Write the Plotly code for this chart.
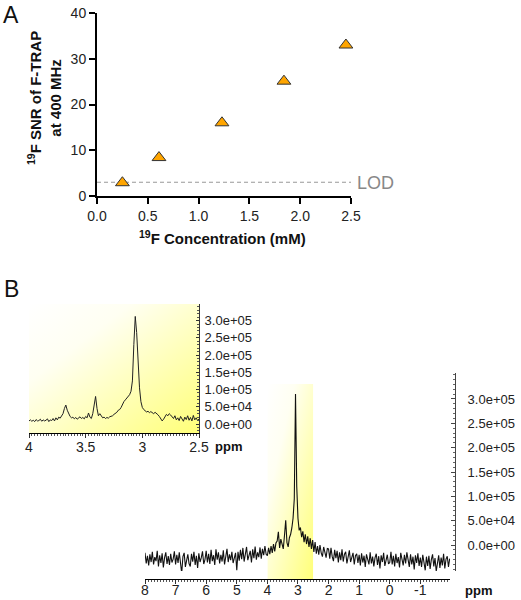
import base64
import numpy as np
import plotly.graph_objects as go

W, H = 521, 600

# ---------------- Panel A data ----------------
conc_mM = [0.25, 0.61, 1.23, 1.84, 2.45]
snr = [2.9, 8.4, 16.0, 25.1, 33.0]
lod_value = 3.0
a_xticks = [0.0, 0.5, 1.0, 1.5, 2.0, 2.5]
a_xticklabels = ["0.0", "0.5", "1.0", "1.5", "2.0", "2.5"]
a_yticks = [0, 10, 20, 30, 40]

# ---------------- Panel B data ----------------
# inset spectrum, 4.0 -> 2.5 ppm (intensity in thousands)
inset_k = [9, 12, 8, 11, 7, 13, 9, 10, 14, 8, 12, 9, 11, 15, 7, 12, 10, 16, 9, 18, 12, 20,
           17, 24, 30, 45,
           55,
           40, 28, 22,
           18, 20, 15, 19, 14, 17, 21, 16, 19, 15, 22, 18,
           32, 20, 16, 30, 55, 80, 45, 24, 30, 22,
           18, 20, 16, 19, 17, 21, 22, 24, 28, 30,
           34, 40, 42, 48, 58, 65, 70, 75, 78, 85, 95,
           125, 230, 312, 265, 180, 105, 65, 48,
           42, 38, 35, 37, 33, 36, 32, 30, 34, 31, 27,
           22, 15, 9, 14,
           22, 28, 24, 30, 26,
           20, 16, 24, 12, 18, 10, 22, 14, 8, 20, 13, 24, 11, 19, 9, 25, 12, 18, 10, 15]
inset_ppm_start, inset_ppm_end = 4.0, 2.5

# full spectrum, 8.0 ppm downward in 0.04 ppm steps (intensity in thousands)
full_k = ([-16, -38, -22, -42, -19, -35, -14, -40, -25, -33, -12, -44, -21, -37, -17, -46, -26, -15, -39, -23, -41, -18, -36, -29, -13]
          + [-40, -20, -37, -15, -43, -58, -24, -16, -45, -27, -19, -38, -44, -18, -34, -14, -41, -22, -47, -17, -35, -26, -13, -39, -30]
          + [-12, -36, -18, -39, -10, -33, -21, -41, -9, -30, -15, -38, -20, -34, -11, -40, -24, -8, -35, -19, -31, -14, -37, -22, -16]
          + [-52, -14, -32, -10, -29, -6, -34, -17, -4, -31, -22, -12, -36, -9, -27, -3, -30, -15, -25, -5, -28, -8, -21, -2, -19]
          + [-22, -6, -19, -2, -16, 2, -13, 4, 8, 27, -6, 12, 0, -8, 20, 51, 5, -4, 15, 22, 35, 55, 95, 310,
             120, 55, 30, 36, 16, 28, 6, 22, 2, 18, -4, 14, -8, 10]
          + [-14, 6, -18, -2, -20, 0, -16, -24, -4, -19, -26, -7]
          + [-8, -28, -6, -24, -33, -10, -27, -12, -36, -15, -31, -9, -34, -19, -14, -38, -20, -11, -35, -25, -16, -40, -22, -18, -37]
          + [-20, -42, -17, -36, -22, -45, -19, -33, -40, -15, -38, -24, -44, -26, -18, -41, -23, -48, -21, -35, -16, -43, -27, -20, -39]
          + [-36, -14, -40, -22, -44, -18, -37, -25, -46, -16, -33, -42, -20, -38, -15, -34, -45, -19, -40, -24, -50, -21, -37, -17, -43]
          + [-26, -45, -20, -41, -52, -24, -43, -22, -49, -30, -19, -44, -27, -54, -31, -21, -47, -26, -42, -18, -48, -29, -23, -45, -28])
full_ppm_start, full_ppm_step = 8.0, 0.04

b_yticks = [0, 50000, 100000, 150000, 200000, 250000, 300000]
b_yticklabels = ["0.0e+00", "5.0e+04", "1.0e+05", "1.5e+05", "2.0e+05", "2.5e+05", "3.0e+05"]
inset_xticks = [4, 3.5, 3, 2.5]
inset_xticklabels = ["4", "3.5", "3", "2.5"]
full_xticks = [8, 7, 6, 5, 4, 3, 2, 1, 0, -1]
full_xticklabels = ["8", "7", "6", "5", "4", "3", "2", "1", "0", "-1"]
band_ppm = [4.0, 2.5]

inset_ppm = np.linspace(inset_ppm_start, inset_ppm_end, len(inset_k))
inset_int = np.array(inset_k) * 1000.0
full_ppm = full_ppm_start - full_ppm_step * np.arange(len(full_k))
full_int = np.array(full_k) * 1000.0

FONT = "Arial, Liberation Sans, sans-serif"


def px(x):
    return x / W


def py(y):
    return 1 - y / H


svg = ('<svg xmlns="http://www.w3.org/2000/svg" width="100" height="100" viewBox="0 0 100 100" '
       'preserveAspectRatio="none"><defs><linearGradient id="g" x1="0" y1="0" x2="1" y2="1">'
       '<stop offset="0" stop-color="#ffffff"/><stop offset="0.3" stop-color="#fffff2"/>'
       '<stop offset="1" stop-color="#ffff78"/></linearGradient></defs>'
       '<rect width="100" height="100" fill="url(#g)"/></svg>')
grad = "data:image/svg+xml;base64," + base64.b64encode(svg.encode()).decode()

fig = go.Figure()

# Panel A
fig.add_trace(go.Scatter(x=[0, 2.5], y=[lod_value, lod_value], mode="lines",
                         line=dict(color="#999999", width=1.2, dash="4px,3px"),
                         xaxis="x", yaxis="y", hoverinfo="skip"))
fig.add_trace(go.Scatter(x=conc_mM, y=snr, mode="markers",
                         marker=dict(symbol="triangle-up", size=12, color="#FFA500",
                                     line=dict(color="#333333", width=1)),
                         xaxis="x", yaxis="y", cliponaxis=False))

# Panel B inset
fig.add_trace(go.Scatter(x=inset_ppm, y=inset_int, mode="lines",
                         line=dict(color="#222222", width=1), xaxis="x2", yaxis="y2"))
# Panel B full spectrum
fig.add_trace(go.Scatter(x=full_ppm, y=full_int, mode="lines",
                         line=dict(color="#111111", width=1.1), xaxis="x3", yaxis="y3"))

axis_common = dict(showgrid=False, zeroline=False, showline=True, linecolor="black",
                   automargin=False)

fig.update_layout(
    template="none",
    width=W, height=H, autosize=False,
    margin=dict(l=0, r=0, t=0, b=0, pad=0),
    paper_bgcolor="white", plot_bgcolor="rgba(0,0,0,0)",
    showlegend=False,
    font=dict(family=FONT, color="#222222"),
    xaxis=dict(axis_common, domain=[px(97), px(351)], range=[0, 2.5], anchor="y",
               linewidth=2, ticks="outside", ticklen=6, tickwidth=2, tickcolor="black",
               tickvals=a_xticks, ticktext=a_xticklabels, tickfont=dict(size=14)),
    yaxis=dict(axis_common, domain=[py(196), py(13)], range=[0, 40], anchor="x",
               linewidth=2, ticks="outside", ticklen=6, tickwidth=2, tickcolor="black",
               tickvals=a_yticks, tickfont=dict(size=14)),
    xaxis2=dict(axis_common, domain=[px(29), px(199)], range=[4, 2.5], anchor="y2",
                linewidth=1, ticks="outside", ticklen=4, tickcolor="#333",
                tickvals=inset_xticks, ticktext=inset_xticklabels, tickfont=dict(size=14),
                ticklabelstandoff=-3,
                minor=dict(ticks="outside", ticklen=2, dtick=0.025, tickcolor="#555")),
    yaxis2=dict(axis_common, domain=[py(433), py(304)], range=[-26000, 348000], anchor="x2",
                side="right", linewidth=1, linecolor="#333", ticks="inside", ticklen=3,
                tickcolor="#333", tickvals=b_yticks, ticktext=b_yticklabels,
                tickfont=dict(size=13), ticklabelstandoff=2,
                minor=dict(ticks="inside", ticklen=2, dtick=10000, tickcolor="#555")),
    xaxis3=dict(axis_common, domain=[px(145), px(450)], range=[8, -1.97], anchor="free",
                position=py(579), linewidth=1, ticks="outside", ticklen=4, tickcolor="#333",
                tickvals=full_xticks, ticktext=full_xticklabels, tickfont=dict(size=14),
                ticklabelstandoff=-6,
                minor=dict(ticks="outside", ticklen=2, dtick=0.1, tickcolor="#555")),
    yaxis3=dict(axis_common, domain=[py(571), py(373)], range=[-53400, 353400], anchor="free",
                position=px(455), side="right", linewidth=1, linecolor="#444", ticks="inside",
                ticklen=4, tickcolor="#444", tickvals=b_yticks, ticktext=b_yticklabels,
                tickfont=dict(size=13), ticklabelstandoff=9,
                minor=dict(ticks="inside", ticklen=2, dtick=10000, tickcolor="#666")),
    images=[
        dict(source=grad, xref="paper", yref="paper", x=px(29), y=py(304),
             sizex=170 / W, sizey=129 / H, sizing="stretch", layer="below",
             xanchor="left", yanchor="top"),
        dict(source=grad, xref="x3", yref="paper", x=band_ppm[0], y=py(384),
             sizex=band_ppm[0] - band_ppm[1], sizey=(579 - 384) / H, sizing="stretch",
             layer="below", xanchor="left", yanchor="top"),
    ],
    annotations=[
        dict(text="A", x=px(11), y=py(15), xref="paper", yref="paper", xanchor="center",
             yanchor="middle", showarrow=False, font=dict(size=23, color="#111")),
        dict(text="B", x=px(11), y=py(289), xref="paper", yref="paper", xanchor="center",
             yanchor="middle", showarrow=False, font=dict(size=23, color="#111")),
        dict(text="LOD", x=px(355), y=py(183), xref="paper", yref="paper", xanchor="left",
             yanchor="middle", showarrow=False, font=dict(size=18, color="#888888")),
        dict(text="<b><sup>19</sup>F Concentration (mM)</b>", x=px(222), y=py(237),
             xref="paper", yref="paper", xanchor="center", yanchor="middle",
             showarrow=False, font=dict(size=15, color="#111")),
        dict(text="<b><sup>19</sup>F SNR of F-TRAP<br>at 400 MHz</b>", x=px(44), y=py(98),
             xref="paper", yref="paper", xanchor="center", yanchor="middle",
             textangle=-90, showarrow=False, font=dict(size=15, color="#111")),
        dict(text="<b>ppm</b>", x=px(213), y=py(446), xref="paper", yref="paper",
             xanchor="left", yanchor="middle", showarrow=False, font=dict(size=13, color="#111")),
        dict(text="<b>ppm</b>", x=px(463), y=py(590), xref="paper", yref="paper",
             xanchor="left", yanchor="middle", showarrow=False, font=dict(size=13, color="#111")),
    ],
)

# remove the browser's default 8px page margin so the figure fills the window exactly
fig.write_html("out.html",
               config={"displayModeBar": False},
               post_script="document.body.style.margin='0';document.body.style.overflow='hidden';")
